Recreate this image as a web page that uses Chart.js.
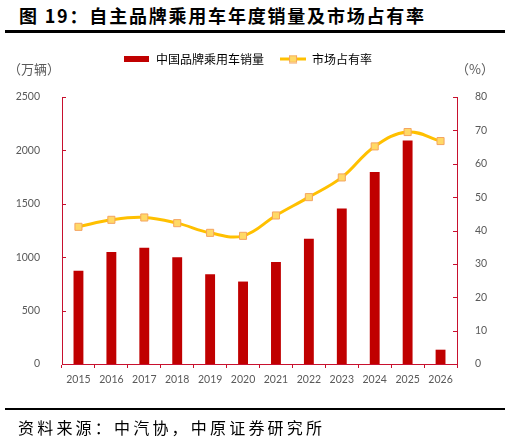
<!DOCTYPE html>
<html>
<head>
<meta charset="utf-8">
<script src="https://cdn.jsdelivr.net/npm/chart.js@4.4.0/dist/chart.umd.min.js"></script>
<style>
  html, body { margin: 0; padding: 0; background: #fff; }
  #wrap { position: relative; width: 510px; height: 440px; overflow: hidden; }
  #chart-box { position: absolute; left: 0; top: 0; width: 510px; height: 440px; }
  .title { position: absolute; left: 19px; top: 4px; font: bold 18px "Noto Sans CJK SC"; letter-spacing: 1.8px; line-height: 22px; color: #000; white-space: nowrap; }
  .rule { position: absolute; left: 5px; width: 500px; height: 2.5px; background: #000; }
  .source { position: absolute; left: 18px; top: 417px; font: 16px "Noto Sans CJK SC"; letter-spacing: 3.2px; line-height: 20px; color: #000; white-space: nowrap; }
</style>
</head>
<body>
<div id="wrap">
  <div class="title">图 19：自主品牌乘用车年度销量及市场占有率</div>
  <div class="rule" style="top:30px"></div>
  <div id="chart-box"><canvas id="chart"></canvas></div>
  <div class="rule" style="top:407.5px"></div>
  <div class="source">资料来源：中汽协，中原证券研究所</div>
</div>
<script>
const years = ['2015', '2016', '2017', '2018', '2019', '2020', '2021', '2022', '2023', '2024', '2025', '2026'];
const sales = [872, 1049, 1089, 1000, 841, 772, 956, 1173, 1457, 1797, 2093, 134];
const share = [41.1, 43.2, 43.9, 42.2, 39.3, 38.4, 44.5, 50.0, 55.9, 65.2, 69.5, 66.8];
const salesTicks = [0, 500, 1000, 1500, 2000, 2500];
const shareTicks = [0, 10, 20, 30, 40, 50, 60, 70, 80];
const salesLabel = '中国品牌乘用车销量';
const shareLabel = '市场占有率';

const RED = '#C00000';
const AXIS = '#C8102E';
const GRAY = '#595959';
const tickFont = { family: 'Lato', size: 10.5 };

// legend icons
function barIcon() {
  const c = document.createElement('canvas');
  c.width = 25; c.height = 6;
  const g = c.getContext('2d');
  g.fillStyle = RED;
  g.fillRect(0, 0, 25, 6);
  return c;
}
function lineIcon() {
  const c = document.createElement('canvas');
  c.width = 26; c.height = 9;
  const g = c.getContext('2d');
  g.strokeStyle = '#FFC000';
  g.lineWidth = 3;
  g.beginPath(); g.moveTo(0, 4.5); g.lineTo(26, 4.5); g.stroke();
  g.fillStyle = '#FFD966';
  g.strokeStyle = '#F4A460';
  g.lineWidth = 1;
  g.fillRect(9.5, 1, 7, 7);
  g.strokeRect(9.5, 1, 7, 7);
  return c;
}

const axisExtras = {
  id: 'axisExtras',
  beforeInit(chart) {
    const fit = chart.legend.fit;
    chart.legend.fit = function () {
      fit.call(this);
      this.height += 22;
    };
  },
  afterDraw(chart) {
    const ctx = chart.ctx;
    const area = chart.chartArea;
    const y = chart.scales.y, y1 = chart.scales.y1;
    ctx.save();
    ctx.strokeStyle = AXIS;
    ctx.lineWidth = 1;
    ctx.beginPath();
    y.ticks.forEach((t, i) => {
      const py = Math.round(y.getPixelForTick(i)) + 0.5;
      ctx.moveTo(area.left, py); ctx.lineTo(area.left + 4, py);
    });
    y1.ticks.forEach((t, i) => {
      const py = Math.round(y1.getPixelForTick(i)) + 0.5;
      ctx.moveTo(area.right, py); ctx.lineTo(area.right - 4, py);
    });
    ctx.stroke();
    ctx.fillStyle = GRAY;
    ctx.font = '13px "Noto Sans CJK SC"';
    ctx.textBaseline = 'middle';
    ctx.textAlign = 'center';
    ctx.fillText('（万辆）', 34, area.top - 28);
    ctx.fillText('（%）', 475, area.top - 28);
    ctx.restore();
  }
};

new Chart(document.getElementById('chart'), {
  data: {
    labels: years,
    datasets: [
      {
        type: 'line',
        label: shareLabel,
        data: share,
        yAxisID: 'y1',
        order: 1,
        borderColor: '#FFC000',
        borderWidth: 3,
        tension: 0.4,
        pointStyle: 'rect',
        pointRadius: 5,
        pointBackgroundColor: '#FFD966',
        pointBorderColor: '#F4A460',
        pointBorderWidth: 1
      },
      {
        type: 'bar',
        label: salesLabel,
        data: sales,
        yAxisID: 'y',
        order: 2,
        backgroundColor: RED,
        categoryPercentage: 1,
        barPercentage: 0.3
      }
    ]
  },
  options: {
    responsive: true,
    maintainAspectRatio: false,
    animation: false,
    layout: { padding: { top: 37, left: 0, right: 14, bottom: 0 } },
    scales: {
      x: {
        grid: { offset: true, drawOnChartArea: false, color: AXIS, tickLength: 4 },
        border: { color: AXIS },
        ticks: { color: GRAY, font: tickFont, padding: 5, maxRotation: 0 },
        afterFit(s) { s.height = 76; }
      },
      y: {
        position: 'left',
        min: 0,
        max: 2500,
        grid: { display: false },
        border: { color: AXIS },
        ticks: { color: GRAY, font: tickFont, padding: 14, callback: v => String(v) },
        afterBuildTicks(s) { s.ticks = salesTicks.map(v => ({ value: v })); },
        afterFit(s) { s.width = 62; }
      },
      y1: {
        position: 'right',
        min: 0,
        max: 80,
        grid: { display: false },
        border: { color: AXIS },
        ticks: { color: GRAY, font: tickFont, padding: 10, callback: v => String(v) },
        afterBuildTicks(s) { s.ticks = shareTicks.map(v => ({ value: v })); },
        afterFit(s) { s.width = 39; }
      }
    },
    plugins: {
      tooltip: { enabled: false },
      legend: {
        position: 'top',
        labels: {
          color: GRAY,
          font: { family: 'Noto Sans CJK SC', size: 12 },
          usePointStyle: true,
          pointStyleWidth: 26,
          padding: 16,
          generateLabels() {
            return [
              { text: salesLabel, pointStyle: barIcon(), fillStyle: RED, strokeStyle: RED, lineWidth: 0, hidden: false, datasetIndex: 1 },
              { text: shareLabel, pointStyle: lineIcon(), fillStyle: '#FFC000', strokeStyle: '#FFC000', lineWidth: 0, hidden: false, datasetIndex: 0 }
            ];
          }
        }
      }
    }
  },
  plugins: [axisExtras]
});
</script>
</body>
</html>
